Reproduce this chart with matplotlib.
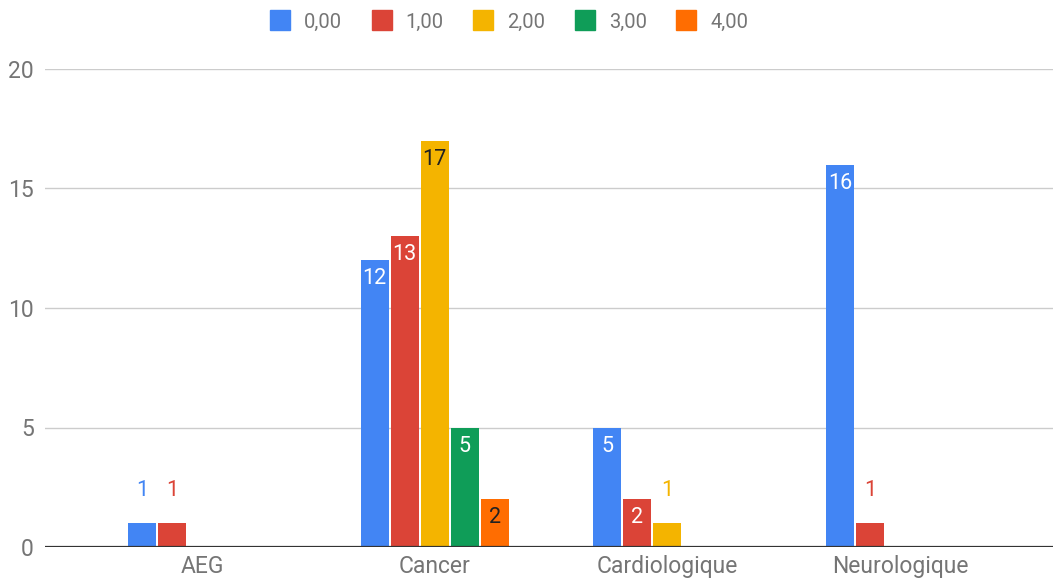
import numpy as np
import matplotlib.pyplot as plt

plt.rcParams['font.family'] = ['Roboto', 'DejaVu Sans']

# Data
categories = ['AEG', 'Cancer', 'Cardiologique', 'Neurologique']
series_names = ['0,00', '1,00', '2,00', '3,00', '4,00']
s0 = [1, 12, 5, 16]
s1 = [1, 13, 2, 1]
s2 = [0, 17, 1, 0]
s3 = [0, 5, 0, 0]
s4 = [0, 2, 0, 0]
values = [s0, s1, s2, s3, s4]

colors = ['#4285F4', '#DB4437', '#F4B400', '#0F9D58', '#FF6D01']
inside_text = ['white', 'white', '#212121', 'white', '#212121']

fig = plt.figure(figsize=(10.53, 5.86), dpi=100)
ax = fig.add_axes([45 / 1053, 39 / 586, 1 - 45 / 1053, 478 / 586])

x = np.arange(len(categories))
slot = 30 / 232.7
width = 28 / 232.7

for i, vals in enumerate(values):
    pos = x + (i - 2) * slot
    bars = ax.bar(pos, vals, width=width, color=colors[i], zorder=3, label=series_names[i])
    for b, v in zip(bars, vals):
        if v == 0:
            continue
        cx = b.get_x() + b.get_width() / 2
        if v >= 2:
            ax.annotate(str(v), (cx, v), xytext=(0, -8), textcoords='offset pixels',
                        ha='center', va='top', fontsize=15.5, color=inside_text[i], zorder=4)
        else:
            ax.annotate(str(v), (cx, v), xytext=(0, 22), textcoords='offset pixels',
                        ha='center', va='bottom', fontsize=15.5, color=colors[i], zorder=4)

ax.set_ylim(0, 20)
ax.set_xlim((45 - 202) / 232.7, (1053 - 202) / 232.7)
ax.set_yticks([0, 5, 10, 15, 20])
ax.set_xticks(x)
ax.set_xticklabels(categories)
ax.tick_params(axis='both', length=0, labelsize=16.5, colors='#757575')
ax.tick_params(axis='x', pad=6)
ax.tick_params(axis='y', pad=8)
ax.grid(axis='y', color='#cccccc', linewidth=1, zorder=0)
ax.axhline(0, color='#333333', linewidth=1.6, zorder=5)
for sp in ax.spines.values():
    sp.set_visible(False)

handles = [plt.Line2D([], [], marker='s', linestyle='none', markersize=15,
                      markerfacecolor=c, markeredgecolor=c) for c in colors]
fig.legend(handles, series_names, loc='center', bbox_to_anchor=(509 / 1053, 1 - 22 / 586),
           ncol=5, frameon=False, fontsize=14.5, labelcolor='#757575',
           handletextpad=0.7, columnspacing=1.45, handlelength=1.0)

fig.savefig('out.png', dpi=100)
